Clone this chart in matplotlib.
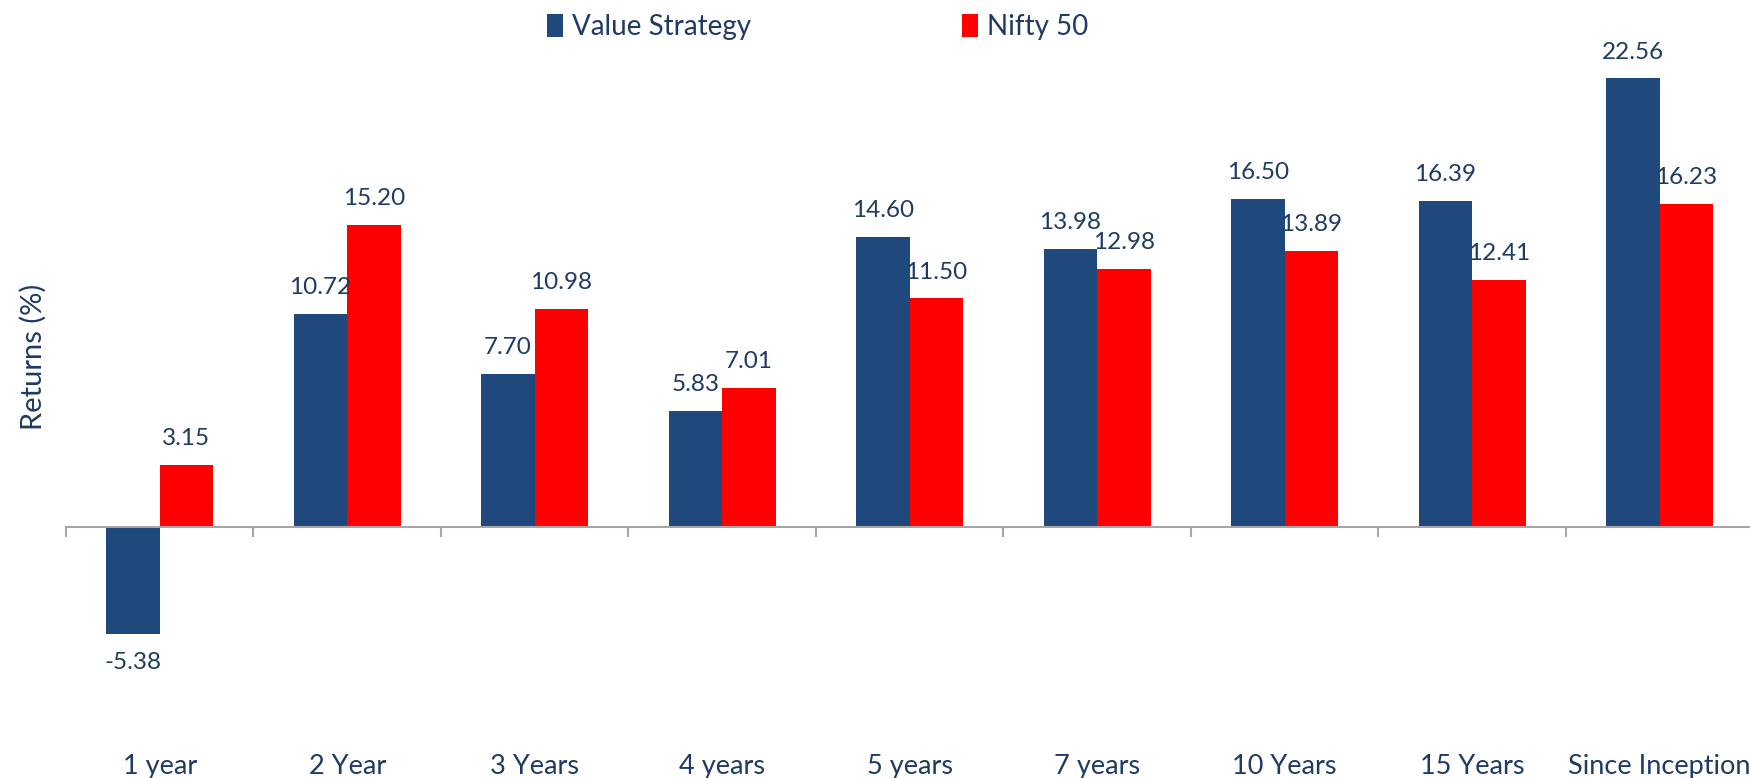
"""
Value Strategy vs Nifty 50 - trailing returns
"""
import numpy as np
import matplotlib.pyplot as plt
from matplotlib.ticker import FixedLocator
from matplotlib.transforms import blended_transform_factory

periods = ["1 year", "2 Year", "3 Years", "4 years", "5 years", "7 years",
           "10 Years", "15 Years", "Since Inception"]
value_strategy = [-5.38, 10.72, 7.70, 5.83, 14.60, 13.98, 16.50, 16.39, 22.56]
nifty_50 = [3.15, 15.20, 10.98, 7.01, 11.50, 12.98, 13.89, 12.41, 16.23]

navy = "#1F497D"
red = "#FF0000"
text_col = "#1F3B64"

plt.rcParams["font.family"] = ["Lato", "DejaVu Sans"]

fig = plt.figure(figsize=(17.5, 7.78), dpi=100)
ax = fig.add_axes([0.0377, 0.0, 0.9643, 1.0])

x = np.arange(len(periods))
w = 0.285
b1 = ax.bar(x - w / 2, value_strategy, w, color=navy, label="Value Strategy")
b2 = ax.bar(x + w / 2, nifty_50, w, color=red, label="Nifty 50")

# data labels above (or below) each bar
for bars in (b1, b2):
    for rect in bars:
        v = rect.get_height()
        off = 19 if v >= 0 else -20
        ax.annotate(f"{v:.2f}", (rect.get_x() + rect.get_width() / 2, v),
                    xytext=(0, off), textcoords="offset points",
                    ha="center", va="center", fontsize=17.5, color=text_col)

ax.set_xlim(-0.5, len(periods) - 0.5)
ax.set_ylim(-12.6, 26.5)

for s in ("top", "right", "left"):
    ax.spines[s].set_visible(False)
ax.spines["bottom"].set_position(("data", 0))
ax.spines["bottom"].set_color("#A6A6A6")
ax.spines["bottom"].set_linewidth(1.5)
ax.set_yticks([])
ax.set_xticks([])
ax.xaxis.set_minor_locator(FixedLocator(np.arange(-0.5, len(periods), 1.0)))
ax.tick_params(axis="x", which="minor", direction="out", length=7,
               width=1.5, color="#A6A6A6")

trans = blended_transform_factory(ax.transData, ax.transAxes)
for i, p in enumerate(periods):
    ax.text(i, 0.015, p, transform=trans, ha="center", va="center",
            fontsize=19.5, color=text_col)

fig.text(0.019, 0.541, "Returns (%)", rotation=90, ha="center", va="center",
         fontsize=21, color=text_col)

leg = fig.legend(loc="center", bbox_to_anchor=(0.467, 0.965), ncol=2,
                 frameon=False, fontsize=20, handlelength=0.6,
                 handleheight=0.9, handletextpad=0.3, columnspacing=7.6)
for t in leg.get_texts():
    t.set_color(text_col)

fig.savefig("out.png", dpi=100)
